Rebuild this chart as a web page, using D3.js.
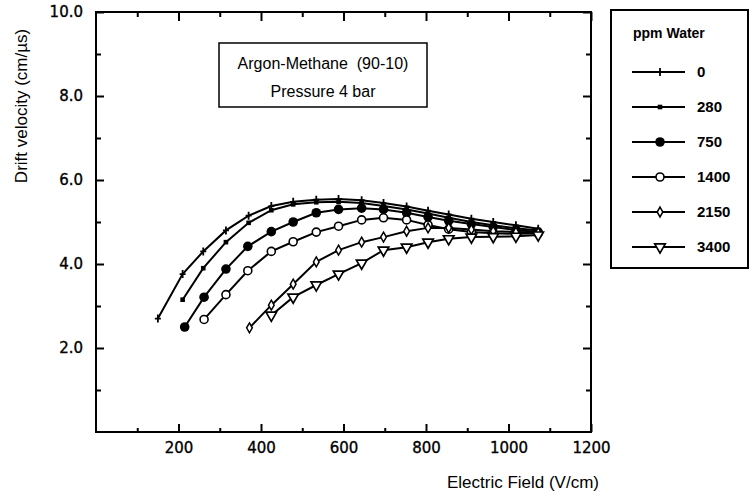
<!DOCTYPE html>
<html>
<head>
<meta charset="utf-8">
<script src="https://cdn.jsdelivr.net/npm/d3@7"></script>
<style>
  body { margin: 0; background: #fff; }
  text { fill: #000; }
</style>
</head>
<body>
<div id="chart"></div>
<script>
// ppm water content of each curve
const ppmLabels = ["0", "280", "750", "1400", "2150", "3400"];

// electric field (V/cm) and drift velocity (cm/us)
const field0   = [150, 210, 260, 315, 370, 425, 478, 534, 588, 644, 697, 753, 805, 855, 910, 963, 1018, 1072];
const drift0   = [2.70, 3.76, 4.30, 4.80, 5.15, 5.38, 5.48, 5.53, 5.55, 5.52, 5.45, 5.37, 5.27, 5.18, 5.08, 5.00, 4.92, 4.84];

const field280 = [210, 260, 315, 370, 425, 478, 534, 588, 644, 697, 753, 805, 855, 910, 963, 1018, 1072];
const drift280 = [3.15, 3.90, 4.52, 4.98, 5.28, 5.42, 5.47, 5.48, 5.45, 5.38, 5.30, 5.20, 5.10, 5.00, 4.92, 4.85, 4.80];

const field750 = [215, 262, 315, 368, 425, 478, 534, 588, 644, 697, 753, 805, 855, 910, 963, 1018, 1072];
const drift750 = [2.50, 3.21, 3.88, 4.42, 4.77, 5.00, 5.22, 5.30, 5.33, 5.30, 5.22, 5.12, 5.03, 4.95, 4.88, 4.81, 4.76];

const field1400 = [262, 315, 368, 425, 478, 534, 588, 644, 697, 753, 805, 855, 910, 963, 1018, 1072];
const drift1400 = [2.68, 3.27, 3.84, 4.30, 4.53, 4.76, 4.90, 5.05, 5.10, 5.05, 4.93, 4.83, 4.76, 4.73, 4.72, 4.73];

const field2150 = [372, 425, 478, 534, 588, 644, 697, 753, 805, 855, 910, 963, 1018, 1072];
const drift2150 = [2.48, 3.02, 3.52, 4.05, 4.33, 4.52, 4.64, 4.78, 4.86, 4.86, 4.82, 4.78, 4.76, 4.75];

const field3400 = [425, 478, 534, 588, 644, 697, 753, 805, 855, 910, 963, 1018, 1072];
const drift3400 = [2.78, 3.21, 3.50, 3.76, 4.02, 4.33, 4.40, 4.52, 4.60, 4.64, 4.65, 4.66, 4.69];

const xTicks = [200, 400, 600, 800, 1000, 1200];
const yTicks = [2, 4, 6, 8, 10];

const width = 751, height = 493;
const margin = { top: 12, right: 160, bottom: 61, left: 96 };

const svg = d3.select('#chart')
  .append('svg')
  .attr('width', width)
  .attr('height', height);

const xScale = d3.scaleLinear()
  .domain([0, 1200])
  .range([margin.left, width - margin.right]);

const yScale = d3.scaleLinear()
  .domain([0, 10])
  .range([height - margin.bottom, margin.top]);

const x0 = xScale(0), x1 = xScale(1200), y0 = yScale(0), y1 = yScale(10);
const tickFont = '"DejaVu Sans", sans-serif';
const plainFont = '"Liberation Sans", Arial, sans-serif';

// frame
svg.append('rect')
  .attr('x', x0).attr('y', y1)
  .attr('width', x1 - x0).attr('height', y0 - y1)
  .attr('fill', 'none').attr('stroke', '#000').attr('stroke-width', 2);

// axes, ticks pointing in
function styleAxis(g) {
  g.select('.domain').remove();
  g.selectAll('line').attr('stroke', '#000').attr('stroke-width', 2);
  g.selectAll('text')
    .style('font-family', tickFont).style('font-size', '15px')
    .attr('stroke', '#000').attr('stroke-width', 0.35);
}

svg.append('g')
  .attr('transform', `translate(0, ${y0})`)
  .call(d3.axisBottom(xScale).tickValues(xTicks).tickSizeInner(-8).tickSizeOuter(0).tickPadding(10).tickFormat(d3.format('d')))
  .call(styleAxis);
svg.append('g')
  .attr('transform', `translate(0, ${y0})`)
  .call(d3.axisBottom(xScale).tickValues([100, 300, 500, 700, 900, 1100]).tickSizeInner(-4).tickSizeOuter(0).tickFormat(''))
  .call(styleAxis);
svg.append('g')
  .attr('transform', `translate(0, ${y1})`)
  .call(d3.axisTop(xScale).tickValues(xTicks).tickSizeInner(-9).tickSizeOuter(0).tickFormat(''))
  .call(styleAxis);
svg.append('g')
  .attr('transform', `translate(0, ${y1})`)
  .call(d3.axisTop(xScale).tickValues([100, 300, 500, 700, 900, 1100]).tickSizeInner(-5).tickSizeOuter(0).tickFormat(''))
  .call(styleAxis);

svg.append('g')
  .attr('transform', `translate(${x0}, 0)`)
  .call(d3.axisLeft(yScale).tickValues(yTicks).tickSizeInner(-8).tickSizeOuter(0).tickPadding(13).tickFormat(d3.format('.1f')))
  .call(styleAxis);
svg.append('g')
  .attr('transform', `translate(${x0}, 0)`)
  .call(d3.axisLeft(yScale).tickValues([1, 3, 5, 7, 9]).tickSizeInner(-5).tickSizeOuter(0).tickFormat(''))
  .call(styleAxis);
svg.append('g')
  .attr('transform', `translate(${x1}, 0)`)
  .call(d3.axisRight(yScale).tickValues(yTicks).tickSizeInner(-8).tickSizeOuter(0).tickFormat(''))
  .call(styleAxis);
svg.append('g')
  .attr('transform', `translate(${x1}, 0)`)
  .call(d3.axisRight(yScale).tickValues([1, 3, 5, 7, 9]).tickSizeInner(-5).tickSizeOuter(0).tickFormat(''))
  .call(styleAxis);

// axis titles
svg.append('text')
  .attr('x', x1 + 8).attr('y', 488)
  .attr('text-anchor', 'end')
  .style('font-family', plainFont).style('font-size', '17px')
  .text('Electric Field (V/cm)');

svg.append('text')
  .attr('transform', `translate(27, 106) rotate(-90)`)
  .attr('text-anchor', 'middle')
  .style('font-family', plainFont).style('font-size', '17px')
  .text('Drift velocity (cm/\u00b5s)');

// markers
const markers = {
  '0':    d => d.append('path').attr('d', 'M0,-4V4M-3,0H3').attr('stroke', '#000').attr('stroke-width', 1.8).attr('fill', 'none'),
  '280':  d => d.append('rect').attr('x', -2.3).attr('y', -2.3).attr('width', 4.6).attr('height', 4.6).attr('fill', '#000'),
  '750':  d => d.append('circle').attr('r', 4.8).attr('fill', '#000'),
  '1400': d => d.append('circle').attr('r', 4).attr('fill', '#fff').attr('stroke', '#000').attr('stroke-width', 1.6),
  '2150': d => d.append('path').attr('d', d3.symbol(d3.symbolDiamond, 28)()).attr('fill', '#fff').attr('stroke', '#000').attr('stroke-width', 1.5),
  '3400': d => d.append('path').attr('d', d3.symbol(d3.symbolTriangle, 48)()).attr('transform', 'rotate(180)').attr('fill', '#fff').attr('stroke', '#000').attr('stroke-width', 1.7)
};

const series = [
  { ppm: '0', x: field0, y: drift0 },
  { ppm: '280', x: field280, y: drift280 },
  { ppm: '750', x: field750, y: drift750 },
  { ppm: '1400', x: field1400, y: drift1400 },
  { ppm: '2150', x: field2150, y: drift2150 },
  { ppm: '3400', x: field3400, y: drift3400 }
];

const line = d3.line()
  .x(d => xScale(d[0]))
  .y(d => yScale(d[1]));

series.forEach(s => {
  const pts = s.x.map((v, i) => [v, s.y[i]]);
  svg.append('path')
    .datum(pts)
    .attr('fill', 'none')
    .attr('stroke', '#000')
    .attr('stroke-width', 2)
    .attr('d', line);
});

series.forEach(s => {
  const pts = s.x.map((v, i) => [v, s.y[i]]);
  svg.selectAll(null)
    .data(pts)
    .enter().append('g')
    .attr('transform', d => `translate(${xScale(d[0])}, ${yScale(d[1])})`)
    .each(function () { markers[s.ppm](d3.select(this)); });
});

// annotation box
svg.append('rect')
  .attr('x', 219).attr('y', 43).attr('width', 208).attr('height', 64)
  .attr('fill', '#fff').attr('stroke', '#000').attr('stroke-width', 1.5);
svg.append('text')
  .attr('x', 323).attr('y', 69).attr('text-anchor', 'middle')
  .style('font-family', plainFont).style('font-size', '16px').style('white-space', 'pre')
  .text('Argon-Methane  (90-10)');
svg.append('text')
  .attr('x', 323).attr('y', 97).attr('text-anchor', 'middle')
  .style('font-family', plainFont).style('font-size', '16px')
  .text('Pressure 4 bar');

// legend
const legend = svg.append('g');
legend.append('rect')
  .attr('x', 611).attr('y', 10).attr('width', 137).attr('height', 258)
  .attr('fill', '#fff').attr('stroke', '#000').attr('stroke-width', 2);
legend.append('text')
  .attr('x', 633).attr('y', 38)
  .style('font-family', plainFont).style('font-size', '14px').style('font-weight', 'bold')
  .text('ppm Water');

ppmLabels.forEach((p, i) => {
  const yy = 72 + i * 35;
  legend.append('line')
    .attr('x1', 632).attr('x2', 685).attr('y1', yy).attr('y2', yy)
    .attr('stroke', '#000').attr('stroke-width', 1.8);
  markers[p](legend.append('g').attr('transform', `translate(660, ${yy})`));
  legend.append('text')
    .attr('x', 697).attr('y', yy + 5)
    .style('font-family', plainFont).style('font-size', '15px').style('font-weight', 'bold')
    .text(p);
});
</script>
</body>
</html>
